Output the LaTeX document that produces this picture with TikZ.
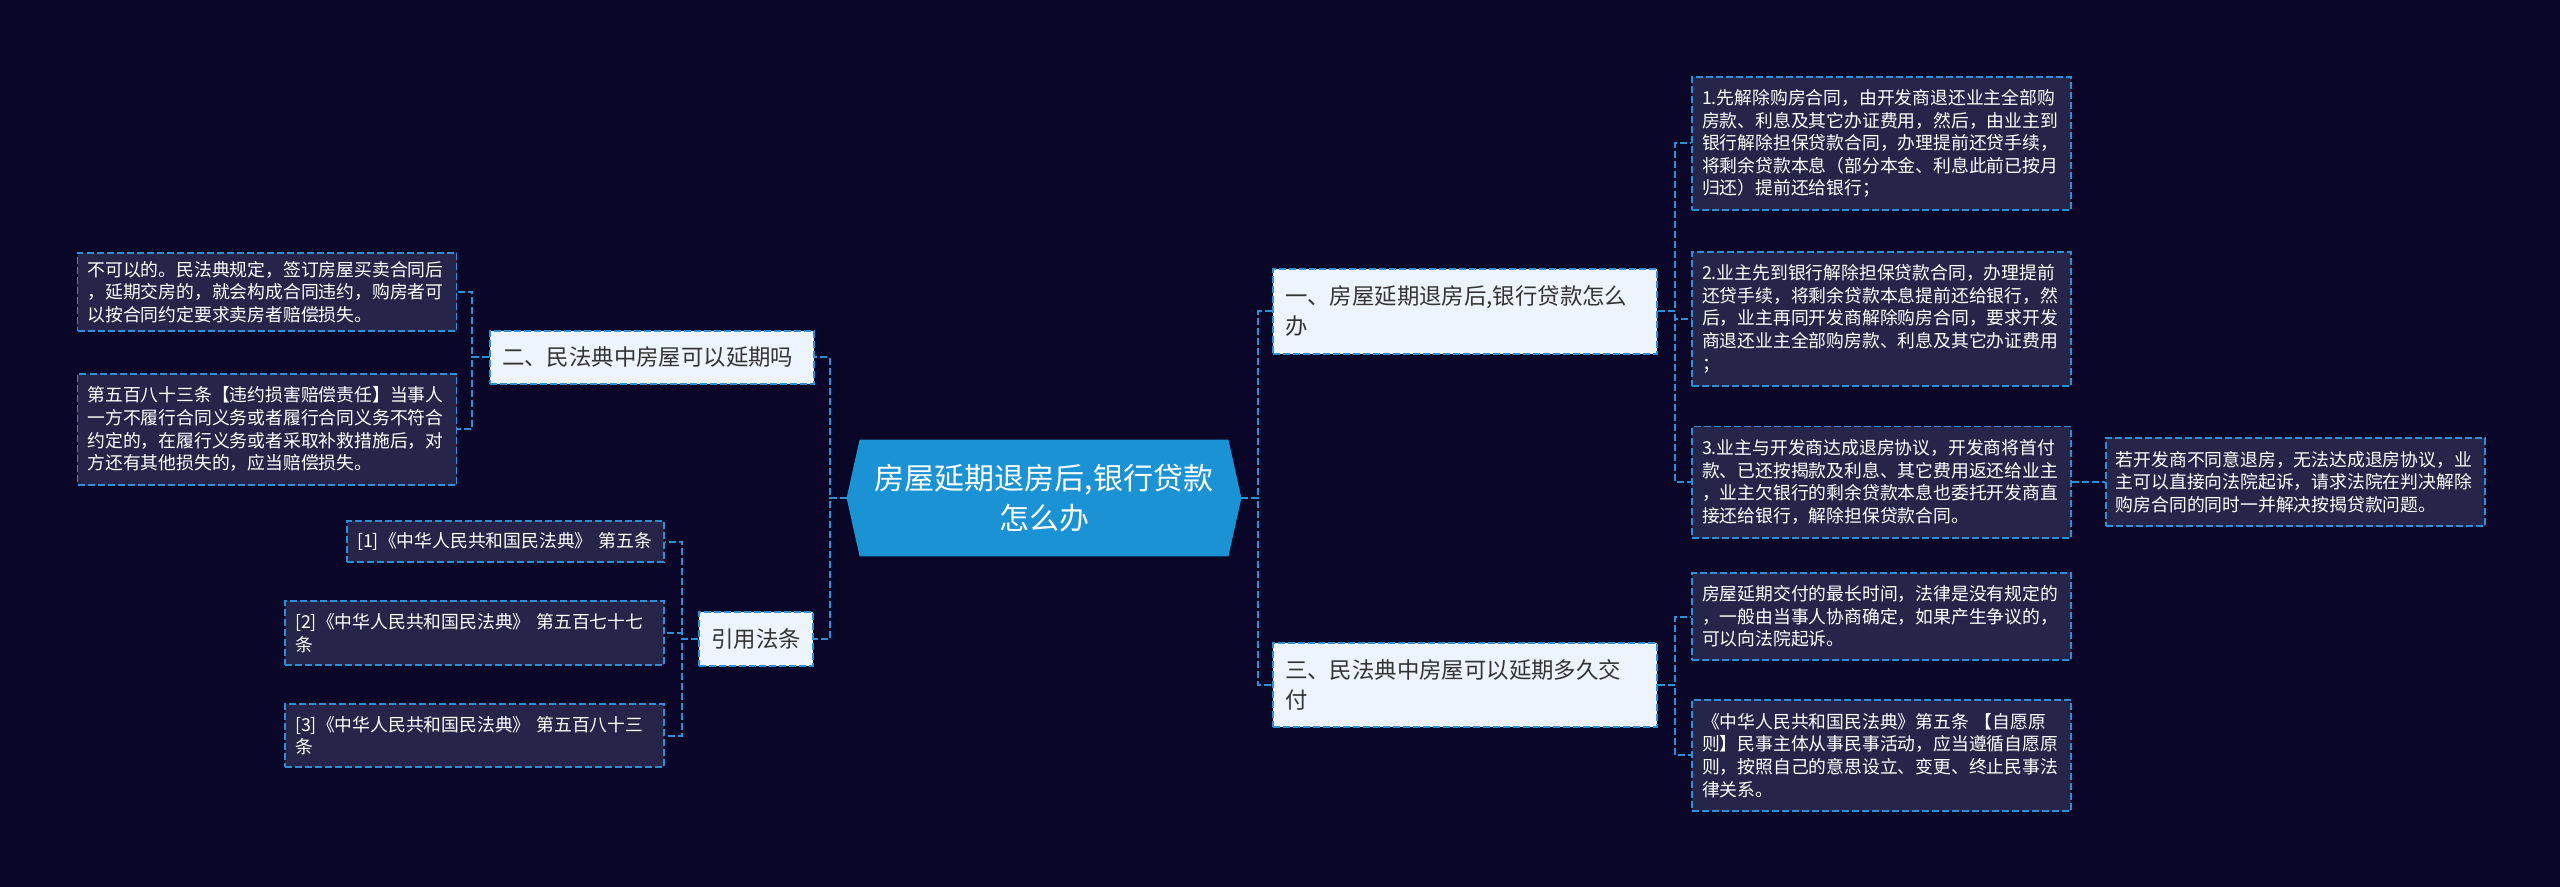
\documentclass[tikz,border=0pt]{standalone}
\usepackage{fontspec}
\setmainfont{Noto Sans CJK SC}
\usepackage{xcolor}
\usetikzlibrary{positioning, backgrounds, calc}
\definecolor{bgnavy}{HTML}{0A0628}
\definecolor{linkblue}{HTML}{2D8FD5}
\definecolor{rootblue}{HTML}{1B92D3}
\definecolor{topicfill}{HTML}{EEF4FD}
\definecolor{topictext}{HTML}{333333}
\definecolor{leaffill}{HTML}{262448}

\begin{document}
\begin{tikzpicture}[x=0.5pt, y=-0.5pt,
    link/.style={draw=linkblue, line width=1pt, dash pattern=on 3.5pt off 1.5pt},
    topic/.style={rectangle, draw=linkblue, line width=1pt, dash pattern=on 3.5pt off 1.5pt,
                  fill=topicfill, text=topictext, font=\fontsize{11.2}{15}\selectfont,
                  align=left, inner xsep=6pt, inner ysep=0pt},
    leaf/.style={rectangle, draw=linkblue, line width=0.9pt, dash pattern=on 3.5pt off 1.5pt,
                 fill=leaffill, text=white, font=\fontsize{8.9}{11.3}\selectfont,
                 align=left, inner xsep=5pt, inner ysep=0pt, minimum width=189.5pt, text width=179.5pt},
    cite/.style={leaf, anchor=east}
]
\useasboundingbox (0,0) rectangle (2560,887);
% centre
\node[text=white, font=\fontsize{15}{20}\selectfont, align=center, minimum width=197pt,
      minimum height=58pt, inner sep=0pt] (root) at (1044,498) {房屋延期退房后,银行贷款\\怎么办};
% right side
\node[topic, minimum width=192pt, minimum height=42.5pt, text width=180pt] (n1) at (1465,311.5)
     {一、房屋延期退房后,银行贷款怎么\\办};
\node[topic, minimum width=192pt, minimum height=42pt, text width=180pt] (n3) at (1465,685)
     {三、民法典中房屋可以延期多久交\\付};
\node[leaf, minimum height=66.5pt] (r1) at (1881.5,143.5)
     {1.先解除购房合同，由开发商退还业主全部购\\房款、利息及其它办证费用，然后，由业主到\\银行解除担保贷款合同，办理提前还贷手续，\\将剩余贷款本息（部分本金、利息此前已按月\\归还）提前还给银行；};
\node[leaf, minimum height=67pt, below=20pt of r1] (r2)
     {2.业主先到银行解除担保贷款合同，办理提前\\还贷手续，将剩余贷款本息提前还给银行，然\\后，业主再同开发商解除购房合同，要求开发\\商退还业主全部购房款、利息及其它办证费用\\；};
\node[leaf, minimum height=55.5pt, below=19.5pt of r2] (r3)
     {3.业主与开发商达成退房协议，开发商将首付\\款、已还按揭款及利息、其它费用返还给业主\\，业主欠银行的剩余贷款本息也委托开发商直\\接还给银行，解除担保贷款合同。};
\node[leaf, minimum height=44pt, right=16.5pt of r3] (r3a)
     {若开发商不同意退房，无法达成退房协议，业\\主可以直接向法院起诉，请求法院在判决解除\\购房合同的同时一并解决按揭贷款问题。};
\node[leaf, minimum height=43.5pt] (r4) at (1881.5,616.5)
     {房屋延期交付的最长时间，法律是没有规定的\\，一般由当事人协商确定，如果产生争议的，\\可以向法院起诉。};
\node[leaf, minimum height=55.5pt, below=19pt of r4] (r5)
     {《中华人民共和国民法典》第五条 【自愿原\\则】民事主体从事民事活动，应当遵循自愿原\\则，按照自己的意思设立、变更、终止民事法\\律关系。};
% left side
\node[topic, minimum width=162pt, minimum height=26.5pt, text width=150pt] (n2) at (652,357.5)
     {二、民法典中房屋可以延期吗};
\node[topic, minimum width=57pt, minimum height=27pt, align=center] (n4) at (756,639)
     {引用法条};
\node[leaf, minimum height=39pt] (l1) at (267,292)
     {不可以的。民法典规定，签订房屋买卖合同后\\，延期交房的，就会构成合同违约，购房者可\\以按合同约定要求卖房者赔偿损失。};
\node[leaf, minimum height=55.5pt, below=20.5pt of l1] (l2)
     {第五百八十三条【违约损害赔偿责任】当事人\\一方不履行合同义务或者履行合同义务不符合\\约定的，在履行义务或者采取补救措施后，对\\方还有其他损失的，应当赔偿损失。};
\node[cite, minimum width=158.5pt, text width=148.5pt, minimum height=20.5pt] (c1) at (665,541.5)
     {[1]《中华人民共和国民法典》~第五条};
\node[cite, minimum height=32pt] (c2) at (665,633)
     {[2]《中华人民共和国民法典》~第五百七十七\\条};
\node[cite, minimum height=31.5pt] (c3) at (665,735.5)
     {[3]《中华人民共和国民法典》~第五百八十三\\条};

\begin{scope}[on background layer]
\fill[bgnavy] (0,0) rectangle (2560,887);
\fill[rootblue] (root.west) -- ($(root.north west)+(13,0)$) -- ($(root.north east)+(-13,0)$)
    -- (root.east) -- ($(root.south east)+(-13,0)$) -- ($(root.south west)+(13,0)$) -- cycle;
% connectors
\foreach \t in {n1,n3} \draw[link] (root.east) -- ++(17,0) |- (\t.west);
\foreach \t in {n2,n4} \draw[link] (root.west) -- ++(-17,0) |- (\t.east);
\foreach \t in {r1,r2,r3} \draw[link] (n1.east) -- ++(17,0) |- (\t.west);
\foreach \t in {r4,r5} \draw[link] (n3.east) -- ++(17,0) |- (\t.west);
\draw[link] (r3.east) -- (r3a.west);
\foreach \t in {l1,l2} \draw[link] (n2.west) -- ++(-17,0) |- (\t.east);
\foreach \t in {c1,c2,c3} \draw[link] (n4.west) -- ++(-16,0) |- (\t.east);
\end{scope}
\end{tikzpicture}
\end{document}
